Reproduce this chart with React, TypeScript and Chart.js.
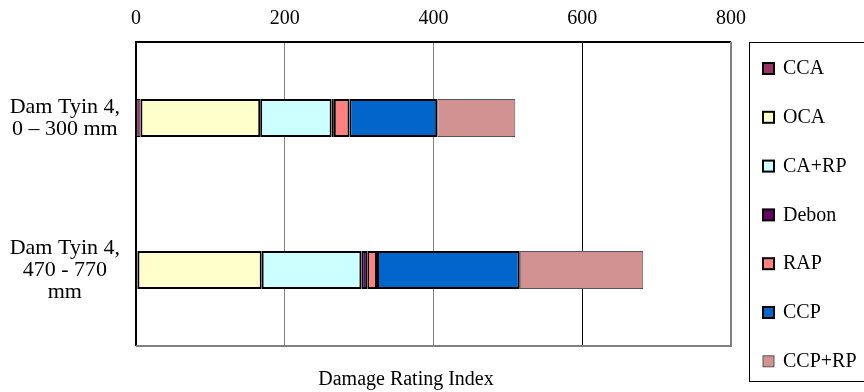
import React, { useEffect, useRef } from "react";
import { Chart, registerables } from "chart.js";

Chart.register(...registerables);

const categories: string[][] = [
  ["Dam Tyin 4,", "0 – 300 mm"],
  ["Dam Tyin 4,", "470 - 770", "mm"],
];
const seriesNames = ["CCA", "OCA", "CA+RP", "Debon", "RAP", "CCP", "CCP+RP"];
const CCA = [6, 2];
const OCA = [161, 167];
const CARP = [96, 134];
const Debon = [3, 8];
const RAP = [21, 13];
const CCP = [118, 192];
const CCPRP = [105, 166];
const xTicks = [0, 200, 400, 600, 800];
const axisTitle = "Damage Rating Index";

const colors = ["#993366", "#FFFFCC", "#CCFFFF", "#660066", "#FF8080", "#0066CC", "#D29292"];
const borders = ["#000", "#000", "#000", "#000", "#000", "#000", "#555"];
const borderWidths = [1, 2, 2, 2, 2, 2, 1];
const FONT = "'Liberation Serif', 'Times New Roman', serif";

export default function App() {
  const ref = useRef<HTMLCanvasElement>(null);
  useEffect(() => {
    document.body.style.margin = "0";
    const values = [CCA, OCA, CARP, Debon, RAP, CCP, CCPRP];
    const frame = {
      id: "frame",
      afterDraw(chart: any) {
        const ctx = chart.ctx;
        const a = chart.chartArea;
        ctx.save();
        ctx.strokeStyle = "#000";
        ctx.lineWidth = 2;
        ctx.beginPath();
        ctx.moveTo(a.left, a.bottom);
        ctx.lineTo(a.left, a.top);
        ctx.lineTo(a.right, a.top);
        ctx.stroke();
        ctx.strokeStyle = "#808080";
        ctx.beginPath();
        ctx.moveTo(a.right, a.top);
        ctx.lineTo(a.right, a.bottom);
        ctx.lineTo(a.left, a.bottom);
        ctx.stroke();
        ctx.fillStyle = "#000";
        ctx.font = "20px " + FONT;
        ctx.textAlign = "center";
        ctx.textBaseline = "middle";
        ctx.fillText(axisTitle, 406, 380);
        ctx.strokeStyle = "#000";
        ctx.lineWidth = 1;
        ctx.strokeRect(749.5, 42.5, 130, 339);
        chart.data.datasets.forEach((ds: any, i: number) => {
          const cy = 69 + i * 48.8;
          ctx.fillStyle = ds.backgroundColor;
          ctx.fillRect(763, cy - 6, 11, 11);
          ctx.strokeStyle = ds.borderColor;
          ctx.lineWidth = i === 6 ? 1 : 2;
          ctx.strokeRect(763, cy - 6, 11, 11);
          ctx.fillStyle = "#000";
          ctx.textAlign = "left";
          ctx.textBaseline = "middle";
          ctx.fillText(ds.label, 783, cy);
        });
        ctx.restore();
      },
    };
    const chart = new Chart(ref.current!, {
      type: "bar",
      data: {
        labels: categories,
        datasets: seriesNames.map((name, i) => ({
          label: name,
          data: values[i],
          backgroundColor: colors[i],
          borderColor: borders[i],
          borderWidth: borderWidths[i],
          borderSkipped: false,
          barPercentage: 0.5,
          categoryPercentage: 0.5,
        })),
      },
      options: {
        indexAxis: "y",
        animation: false,
        responsive: false,
        layout: { padding: { left: 0, right: 133, top: 0, bottom: 46 } },
        plugins: { legend: { display: false }, tooltip: { enabled: false } },
        scales: {
          x: {
            position: "top",
            stacked: true,
            min: 0,
            max: 800,
            afterBuildTicks: (s: any) => {
              s.ticks = xTicks.map((v) => ({ value: v }));
            },
            afterFit: (s: any) => {
              s.height = 42;
              s.paddingLeft = 0;
              s.paddingRight = 0;
            },
            grid: {
              drawTicks: false,
              color: (c: any) => (c.tick && (c.tick.value === 600 || c.tick.value === 0) ? "#000" : "#808080"),
              lineWidth: 1,
            },
            border: { display: false },
            ticks: { color: "#000", padding: 11, font: { family: FONT, size: 20 } },
          },
          y: {
            stacked: true,
            afterFit: (s: any) => {
              s.width = 136;
              s.paddingTop = 0;
              s.paddingBottom = 0;
            },
            grid: { display: false, drawTicks: false },
            border: { display: false },
            ticks: {
              color: "#000",
              padding: 16,
              crossAlign: "center",
              font: { family: FONT, size: 22, lineHeight: 1.0 },
            },
          },
        },
      },
      plugins: [frame],
    } as any);
    return () => chart.destroy();
  }, []);
  return <canvas ref={ref} width={864} height={392} style={{ display: "block" }} />;
}
